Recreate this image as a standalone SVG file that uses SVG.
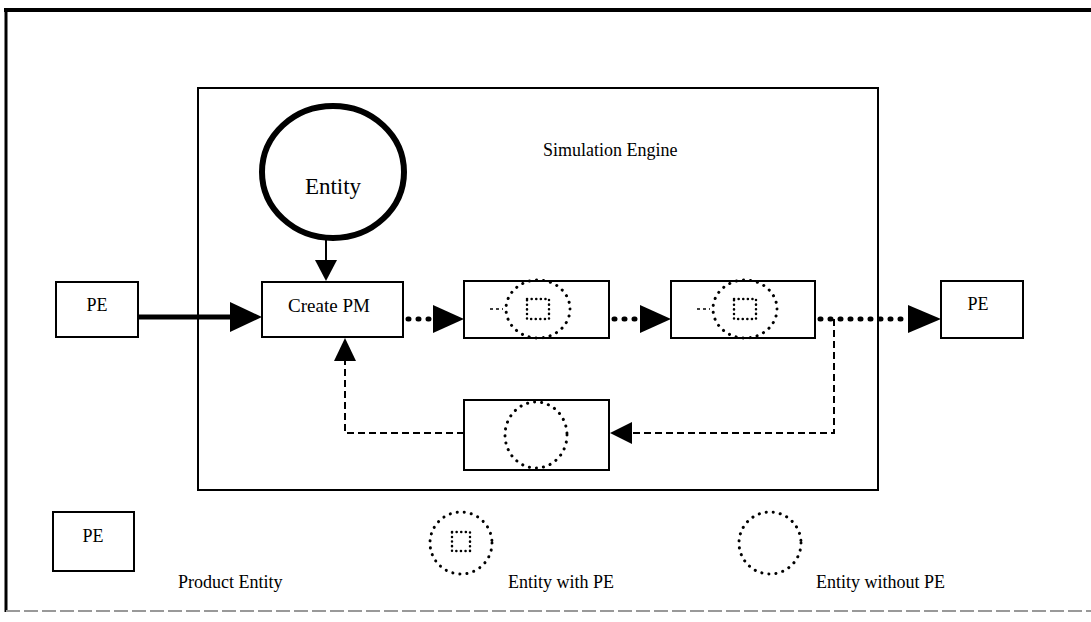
<svg xmlns="http://www.w3.org/2000/svg" width="1091" height="622" viewBox="0 0 1091 622">
<style>
  .t { font-family: "Liberation Serif", "DejaVu Serif", serif; font-size: 18px; fill: #000; }
  .box { fill: #fff; stroke: #000; stroke-width: 2; }
  .dotc { fill: none; stroke: #000; stroke-width: 3; stroke-dasharray: 0.1 7; stroke-linecap: round; }
  .dotsq { fill: none; stroke: #000; stroke-width: 2.5; stroke-dasharray: 0.1 4.5; stroke-linecap: round; }
  .dotline { fill: none; stroke: #000; stroke-width: 5; stroke-dasharray: 1 9; stroke-linecap: round; }
  .dash { fill: none; stroke: #000; stroke-width: 2; stroke-dasharray: 7 4; }
  .head { fill: #000; stroke: none; }
</style>

<!-- outer frame -->
<g id="frame">
  <line x1="4" y1="10" x2="1091" y2="10" stroke="#000" stroke-width="4"/>
  <line x1="6" y1="8" x2="6" y2="612" stroke="#000" stroke-width="3"/>
  <line x1="6" y1="611" x2="1091" y2="611" stroke="#999" stroke-width="2" stroke-dasharray="14 4"/>
</g>

<!-- simulation engine container -->
<g id="engine">
  <rect x="198" y="88" width="680" height="402" fill="none" stroke="#000" stroke-width="2"/>
  <text class="t" x="543" y="156">Simulation Engine</text>
</g>

<g id="connectors">
  <!-- PE -> Create PM thick -->
  <line x1="138" y1="317" x2="232" y2="317" stroke="#000" stroke-width="5"/>
  <polygon class="head" points="230,302 262,317 230,332"/>
  <!-- Entity -> Create PM -->
  <line x1="326" y1="238" x2="326" y2="262" stroke="#000" stroke-width="2"/>
  <polygon class="head" points="315,260 337,260 326,281"/>
  <!-- Create PM -> box2 dotted -->
  <line class="dotline" x1="408" y1="319" x2="432" y2="319"/>
  <polygon class="head" points="433,305 464,319 433,333"/>
  <!-- box2 -> box3 dotted -->
  <line class="dotline" x1="614" y1="319" x2="640" y2="319"/>
  <polygon class="head" points="640,305 671,319 640,333"/>
  <!-- box3 -> PE right dotted -->
  <line class="dotline" x1="820" y1="319" x2="906" y2="319"/>
  <polygon class="head" points="908,305 941,319 908,333"/>
  <!-- loop back dashed -->
  <polyline class="dash" points="834,319 834,433 630,433"/>
  <polygon class="head" points="632,422 610,433 632,444"/>
  <polyline class="dash" points="464,433 345,433 345,360"/>
  <polygon class="head" points="334,361 356,361 345,338"/>
</g>

<g id="pe-in">
  <rect class="box" x="56" y="282" width="82" height="55"/>
  <text class="t" x="97" y="311" text-anchor="middle">PE</text>
</g>

<g id="entity">
  <ellipse cx="333" cy="172" rx="71" ry="66" fill="#fff" stroke="#000" stroke-width="6"/>
  <text class="t" x="333" y="194" text-anchor="middle" style="font-size:23px">Entity</text>
</g>

<g id="create-pm">
  <rect class="box" x="262" y="282" width="141" height="55"/>
  <text class="t" x="329" y="312" text-anchor="middle" style="font-size:19px">Create PM</text>
</g>

<g id="step1">
  <rect class="box" x="464" y="281" width="145" height="57"/>
  <line x1="490" y1="309" x2="503" y2="309" stroke="#000" stroke-width="1.5" stroke-dasharray="3 3"/>
  <ellipse class="dotc" cx="538" cy="309" rx="32" ry="29"/>
  <rect class="dotsq" x="527" y="299" width="22" height="20"/>
</g>

<g id="step2">
  <rect class="box" x="671" y="281" width="144" height="57"/>
  <line x1="697" y1="309" x2="710" y2="309" stroke="#000" stroke-width="1.5" stroke-dasharray="3 3"/>
  <ellipse class="dotc" cx="745" cy="309" rx="32" ry="29"/>
  <rect class="dotsq" x="734" y="299" width="22" height="20"/>
</g>

<g id="pe-out">
  <rect class="box" x="941" y="281" width="82" height="57"/>
  <text class="t" x="978" y="310" text-anchor="middle">PE</text>
</g>

<g id="step-return">
  <rect class="box" x="464" y="400" width="145" height="70"/>
  <ellipse class="dotc" cx="536" cy="435" rx="31" ry="33"/>
</g>

<!-- legend -->
<g id="legend-pe">
  <rect class="box" x="53" y="512" width="81" height="59"/>
  <text class="t" x="93" y="542" text-anchor="middle">PE</text>
  <text class="t" x="178" y="588">Product Entity</text>
</g>
<g id="legend-with">
  <ellipse class="dotc" cx="461" cy="543" rx="31" ry="31"/>
  <rect class="dotsq" x="452" y="532" width="18" height="19"/>
  <text class="t" x="508" y="588">Entity with PE</text>
</g>
<g id="legend-without">
  <ellipse class="dotc" cx="770" cy="543" rx="31" ry="31"/>
  <text class="t" x="816" y="588">Entity without PE</text>
</g>
</svg>
